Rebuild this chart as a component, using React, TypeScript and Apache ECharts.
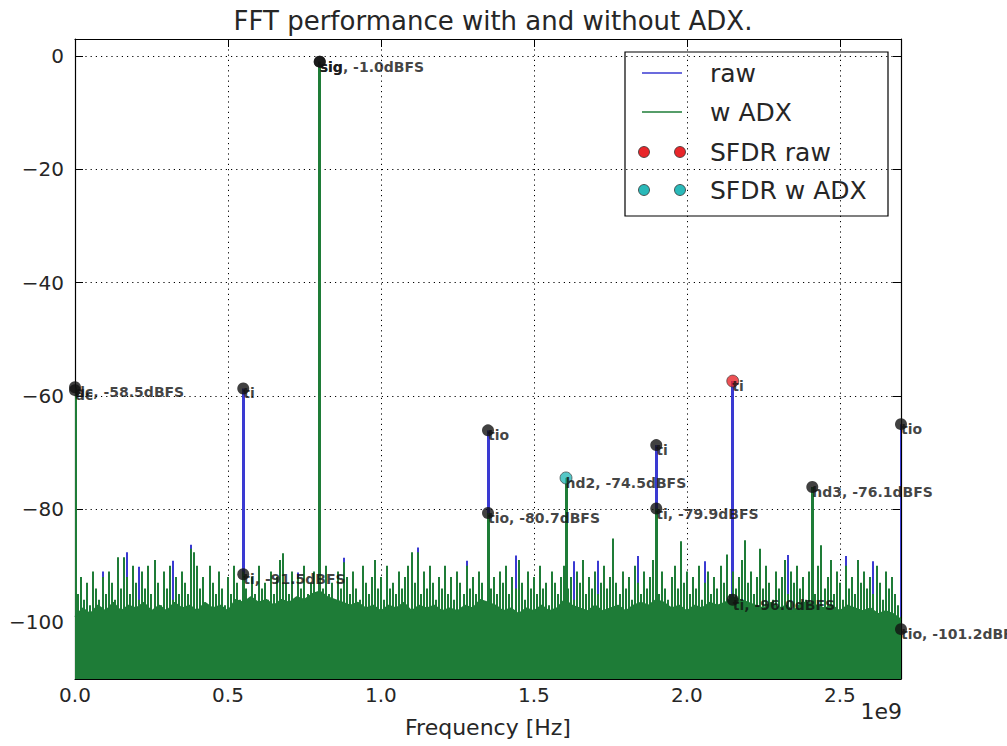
import React, { useEffect, useRef } from 'react';
import * as echarts from 'echarts';

const TITLE = 'FFT performance with and without ADX.';
const X_NAME = 'Frequency [Hz]';
const X_OFFSET_TEXT = '1e9';
const F_MAX = 2.7e9;
const X_INTERVAL = 0.5e9;
const Y_MIN = -110;
const Y_MAX = 3;
const BIN_HZ = 1e7;
const FLOOR_STEP_HZ = 2.5e7;

// w ADX noise bins (dB), one per 10 MHz
const adxNoise = [
  -97, -95, -92, -96, -93, -97, -91, -94, -96, -92,
  -95, -91, -93, -96, -88.5, -94, -88.5, -92, -95, -90,
  -93, -96, -91, -94, -90, -95, -89, -93, -97, -91,
  -94, -90, -96, -92, -95, -91, -93, -95, -87, -87.6,
  -90, -94, -92, -97, -90, -93, -95, -91, -94, -97,
  -92, -95, -90, -93, -96, -91, -94, -97, -92, -95,
  -90, -94, -93, -96, -91, -95, -92, -89, -87.8, -93,
  -95, -91, -96, -92, -94, -90, -95, -93, -91, -96,
  -92, -94, -90, -95, -93, -97, -91, -94, -89.4, -92,
  -95, -91, -94, -96, -90, -93, -95, -92, -89, -94,
  -92, -96, -90, -94, -93, -95, -91, -94, -92, -90,
  -87.6, -93, -87.6, -95, -91, -94, -90, -93, -96, -92,
  -94, -90, -95, -92, -96, -91, -93, -95, -90, -94,
  -92, -95, -91, -93, -97, -90, -94, -92, -95, -91,
  -93, -90, -95, -92, -94, -89, -93, -96, -91, -94,
  -92, -95, -90, -94, -93, -97, -91, -93, -95, -92,
  -90, -94, -92, -96, -91, -93, -89, -95, -92, -94,
  -91, -95, -93, -90, -94, -92, -85.2, -93, -95, -91,
  -94, -92, -96, -90, -93, -95, -91, -94, -92, -89,
  -93, -95, -91, -94, -96, -92, -90, -94, -85.7, -93,
  -91, -95, -92, -94, -90, -96, -93, -91, -95, -92,
  -94, -90, -93, -88, -95, -91, -94, -92, -89, -85.5,
  -93, -91, -95, -92, -87, -94, -90, -93, -96, -91,
  -94, -92, -89, -95, -91, -93, -90, -94, -92, -96,
  -91, -93, -95, -90, -86.4, -94, -92, -89, -95, -91,
  -93, -96, -90, -94, -92, -95, -89, -93, -91, -94,
  -92, -95, -90, -93, -96, -91, -94, -92, -95, -97,
  -99,
];

// top of the dense w ADX floor (dB), one per 25 MHz
const adxFloor = [
  -99, -97.5, -98.5, -97, -98, -96.5, -98, -97, -97.5, -96.5,
  -98, -97, -98, -96.5, -97.5, -97, -98, -96.5, -97.5, -97,
  -98, -96, -96.5, -95.5, -96.5, -96, -97, -96, -96.5, -95.5,
  -96, -95, -94.5, -95.5, -96, -96.5, -97, -96.5, -97.5, -97,
  -98, -97, -97.5, -96.5, -98, -97, -97.5, -97, -98, -97.5,
  -98, -97, -97.5, -96, -96.5, -97, -98, -97.5, -98.5, -97.5,
  -98, -97, -98, -97.5, -96, -97, -97.5, -98, -97, -98,
  -97.5, -97, -98, -97, -96.5, -97, -96, -96.5, -97.5, -97,
  -98, -97, -97.5, -96.5, -97, -96.5, -95.5, -96, -96.5, -97,
  -97.5, -96.5, -97.5, -97, -98, -96.5, -96.5, -97, -97.5, -97,
  -98, -97, -97.5, -98, -97.5, -98.5, -98, -98.5, -99.5,
];

// raw noise bins that rise above the w ADX trace (GHz, dB)
const rawTipsGHz = [0.09, 0.17, 0.21, 0.32, 0.38, 0.47, 0.73, 0.88, 1.12, 1.21, 1.28, 1.44, 1.52, 1.63, 1.71, 1.84, 1.98, 2.06, 2.24, 2.33, 2.44, 2.52, 2.61];
const rawTipsDb = [-91, -87.6, -90.2, -89.1, -86.3, -93.2, -91.2, -88.6, -86.8, -90.3, -89.1, -88.2, -90.3, -89.2, -89.1, -88.3, -88.9, -89.2, -88.2, -88.1, -87.2, -88.3, -89.2];

// labelled spurs
const spurNames = ['dc', 'ti', 'sig', 'tio', 'hd2', 'ti', 'ti', 'hd3', 'tio'];
const spurGHz = [0, 0.55, 0.8, 1.35, 1.605, 1.9, 2.15, 2.41, 2.7];
const spurRawDb = [-59.0, -58.7, -1.0, -66.1, -74.5, -68.7, -57.4, -76.1, -65.0];
const spurAdxDb = [-58.5, -91.5, -1.0, -80.7, -74.5, -79.9, -96.0, -76.1, -101.2];
const spurRawLabelled = [true, true, true, true, false, true, true, false, true];
const SFDR_RAW_INDEX = 6;
const SFDR_ADX_INDEX = 4;

const legendLabels = ['raw', 'w ADX', 'SFDR raw', 'SFDR w ADX'];

const BLUE = '#3a3ad2';
const GREEN = '#1e7c37';
const RED = '#e8262a';
const CYAN = '#2ab9b9';
const FONT = 'DejaVu Sans';

function stemSeries(name: string, data: number[][], color: string, width: number) {
  return {
    type: 'custom',
    name,
    data,
    clip: true,
    renderItem: (_p: any, api: any) => {
      const top = api.coord([api.value(0), api.value(1)]);
      const bottom = api.coord([api.value(0), Y_MIN]);
      const x = Math.round(top[0] - width / 2);
      return {
        type: 'rect',
        shape: { x, y: top[1], width, height: bottom[1] - top[1] },
        style: { fill: color },
      };
    },
  };
}

export default function App() {
  const ref = useRef<HTMLDivElement>(null);
  useEffect(() => {
    const chart = echarts.init(ref.current!, undefined, { renderer: 'svg' });

    const adxNoiseData = adxNoise.map((v, i) => [i * BIN_HZ, v]);
    const adxFloorData = adxFloor.map((v, i) => [i * FLOOR_STEP_HZ, v]);
    const rawTipData = rawTipsGHz.map((f, i) => [f * 1e9, rawTipsDb[i]]);
    const rawSpurData = spurGHz.map((f, i) => [f * 1e9, spurRawDb[i]]);
    const adxSpurData = spurGHz.map((f, i) => [f * 1e9, spurAdxDb[i]]);

    const labelStyle = {
      show: true,
      position: [6, 4],
      align: 'left',
      verticalAlign: 'top',
      fontFamily: FONT,
      fontWeight: 'bold',
      fontSize: 14,
      color: '#111',
      formatter: '{b}',
    };

    const rawMarkers = spurGHz
      .map((f, i) => ({ i, f }))
      .filter(({ i }) => spurRawLabelled[i] && i !== SFDR_RAW_INDEX)
      .map(({ i, f }) => ({ name: spurNames[i], value: [f * 1e9, spurRawDb[i]] }));
    const adxMarkers = spurGHz
      .map((f, i) => ({ i, f }))
      .filter(({ i }) => i !== SFDR_ADX_INDEX)
      .map(({ i, f }) => ({
        name: `${spurNames[i]}, ${spurAdxDb[i].toFixed(1)}dBFS`,
        value: [f * 1e9, spurAdxDb[i]],
      }));

    const axisLine = { show: true, onZero: false, lineStyle: { color: '#000', width: 1.2 } };
    const tick = { show: true, inside: true, length: 8, lineStyle: { color: '#000', width: 1 } };
    const grid = { show: true, lineStyle: { color: '#000', type: [1.2, 4], width: 1 } };

    const legendRowY = [73, 112, 152, 190];

    chart.setOption({
      animation: false,
      title: {
        text: TITLE,
        left: 488,
        top: 3,
        textAlign: 'center',
        textStyle: { fontFamily: FONT, fontSize: 26, fontWeight: 'normal', color: '#262626' },
      },
      grid: { left: 75, right: 106, top: 39, bottom: 67, containLabel: false },
      xAxis: [
        {
          type: 'value',
          min: 0,
          max: F_MAX,
          interval: X_INTERVAL,
          position: 'bottom',
          name: X_NAME,
          nameLocation: 'middle',
          nameGap: 37,
          nameTextStyle: { fontFamily: FONT, fontSize: 22, color: '#262626' },
          axisLine,
          axisTick: tick,
          splitLine: grid,
          axisLabel: {
            fontFamily: FONT,
            fontSize: 20,
            color: '#262626',
            margin: 6,
            showMaxLabel: false,
            formatter: (v: number) => (v / 1e9).toFixed(1),
          },
        },
        {
          type: 'value',
          min: 0,
          max: F_MAX,
          interval: X_INTERVAL,
          position: 'top',
          axisLine,
          axisTick: tick,
          splitLine: { show: false },
          axisLabel: { show: false },
        },
      ],
      yAxis: [
        {
          type: 'value',
          min: Y_MIN,
          max: Y_MAX,
          splitNumber: 6,
          position: 'left',
          axisLine,
          axisTick: tick,
          splitLine: grid,
          axisLabel: {
            fontFamily: FONT,
            fontSize: 20,
            color: '#262626',
            margin: 11,
            showMinLabel: false,
            showMaxLabel: false,
            formatter: (v: number) => (v < 0 ? '\u2212' + Math.abs(v) : String(v)),
          },
        },
        {
          type: 'value',
          min: Y_MIN,
          max: Y_MAX,
          splitNumber: 6,
          position: 'right',
          axisLine,
          axisTick: tick,
          splitLine: { show: false },
          axisLabel: { show: false },
        },
      ],
      series: [
        stemSeries('raw', rawTipData, BLUE, 2),
        stemSeries('raw', rawSpurData, BLUE, 3),
        {
          type: 'line',
          name: 'w ADX',
          data: adxFloorData,
          symbol: 'none',
          lineStyle: { width: 1.5, color: GREEN },
          areaStyle: { color: GREEN, opacity: 1, origin: 'start' },
        },
        stemSeries('w ADX', adxNoiseData, GREEN, 2),
        stemSeries('w ADX', adxSpurData, GREEN, 3),
        {
          type: 'scatter',
          name: 'raw spurs',
          data: rawMarkers,
          symbolSize: 12,
          itemStyle: { color: '#111' },
          label: labelStyle,
          z: 5,
        },
        {
          type: 'scatter',
          name: 'w ADX spurs',
          data: adxMarkers,
          symbolSize: 12,
          itemStyle: { color: '#111' },
          label: labelStyle,
          z: 5,
        },
        {
          type: 'scatter',
          name: 'SFDR raw',
          data: [{ name: spurNames[SFDR_RAW_INDEX], value: [spurGHz[SFDR_RAW_INDEX] * 1e9, spurRawDb[SFDR_RAW_INDEX]] }],
          symbolSize: 12,
          itemStyle: { color: RED, borderColor: '#333', borderWidth: 0.8 },
          label: labelStyle,
          z: 6,
        },
        {
          type: 'scatter',
          name: 'SFDR w ADX',
          data: [{
            name: `${spurNames[SFDR_ADX_INDEX]}, ${spurAdxDb[SFDR_ADX_INDEX].toFixed(1)}dBFS`,
            value: [spurGHz[SFDR_ADX_INDEX] * 1e9, spurAdxDb[SFDR_ADX_INDEX]],
          }],
          symbolSize: 12,
          itemStyle: { color: CYAN, borderColor: '#333', borderWidth: 0.8 },
          label: labelStyle,
          z: 6,
        },
      ],
      graphic: [
        {
          type: 'text',
          right: 1007 - 902,
          top: 700,
          style: { text: X_OFFSET_TEXT, fontFamily: FONT, fontSize: 22, fill: '#262626' },
        },
        {
          type: 'group',
          z: 100,
          children: [
            {
              type: 'rect',
              shape: { x: 625, y: 52, width: 263, height: 164 },
              style: { fill: '#fff', stroke: '#000', lineWidth: 1.2 },
            },
            { type: 'line', shape: { x1: 642, y1: legendRowY[0], x2: 682, y2: legendRowY[0] }, style: { stroke: BLUE, lineWidth: 1.5 } },
            { type: 'line', shape: { x1: 642, y1: legendRowY[1], x2: 682, y2: legendRowY[1] }, style: { stroke: GREEN, lineWidth: 1.5 } },
            { type: 'circle', shape: { cx: 644, cy: legendRowY[2], r: 5.5 }, style: { fill: RED, stroke: '#333', lineWidth: 0.8 } },
            { type: 'circle', shape: { cx: 680, cy: legendRowY[2], r: 5.5 }, style: { fill: RED, stroke: '#333', lineWidth: 0.8 } },
            { type: 'circle', shape: { cx: 644, cy: legendRowY[3], r: 5.5 }, style: { fill: CYAN, stroke: '#333', lineWidth: 0.8 } },
            { type: 'circle', shape: { cx: 680, cy: legendRowY[3], r: 5.5 }, style: { fill: CYAN, stroke: '#333', lineWidth: 0.8 } },
            ...legendLabels.map((t, i) => ({
              type: 'text',
              x: 710,
              y: legendRowY[i],
              style: { text: t, fontFamily: FONT, fontSize: 25, fill: '#262626', verticalAlign: 'middle', align: 'left' },
            })),
          ],
        },
      ],
    });
    return () => chart.dispose();
  }, []);
  return (
    <div
      ref={ref}
      style={{ position: 'fixed', left: 0, top: 0, width: 1007, height: 746, background: '#fff' }}
    />
  );
}
